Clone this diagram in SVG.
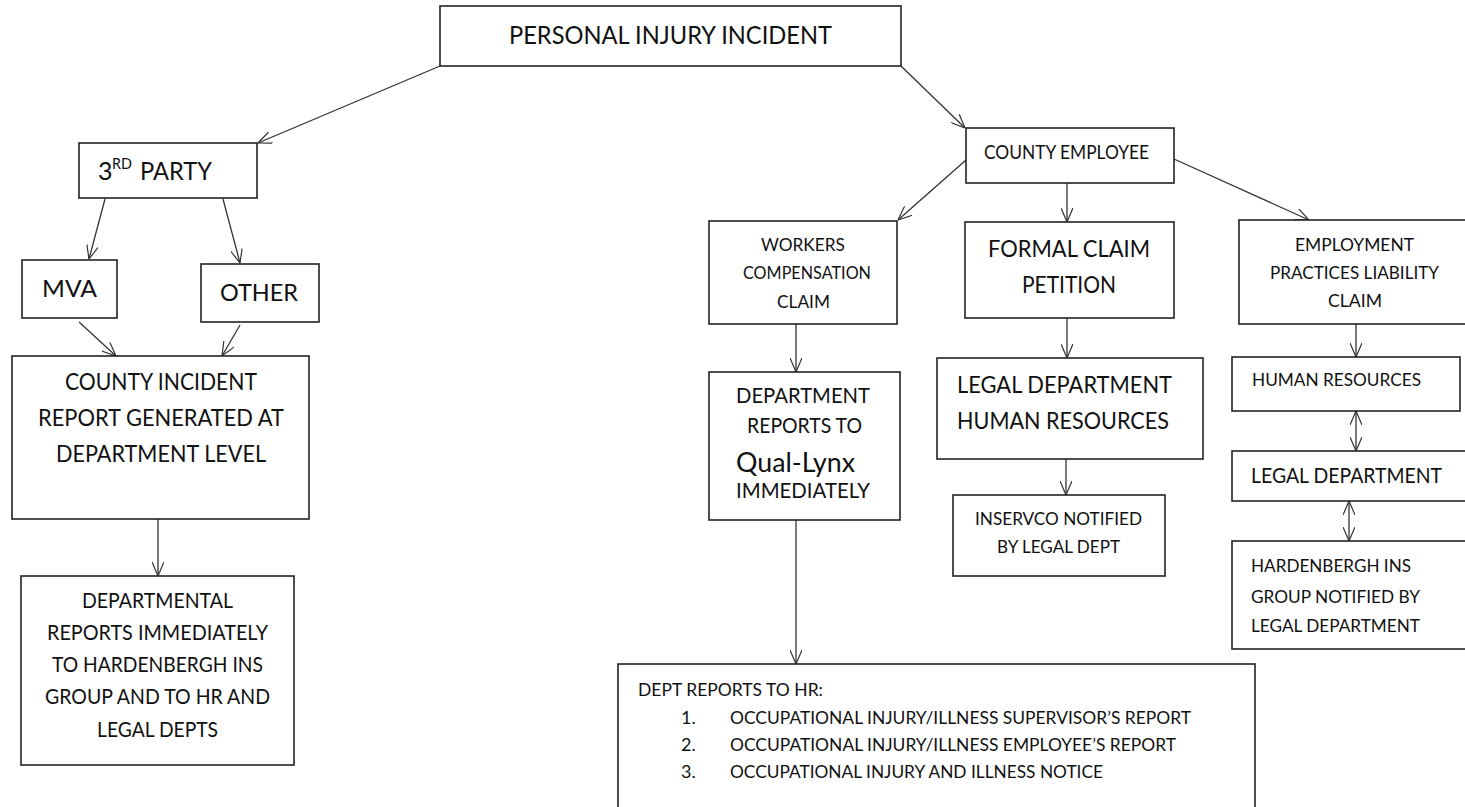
<svg xmlns="http://www.w3.org/2000/svg" width="1465" height="807" viewBox="0 0 1465 807">
<style>
.box{fill:#fff;stroke:#222;stroke-width:1.6}
text{font-family:Lato,"Open Sans",sans-serif;fill:#111}
.m{text-anchor:middle}
.c{stroke:#333;stroke-width:1.3;fill:none;marker-end:url(#ah)}
.d{stroke:#333;stroke-width:1.3;fill:none;marker-end:url(#ah);marker-start:url(#ah)}
</style>
<defs>
<marker id="ah" viewBox="0 0 14 12" refX="14" refY="6" markerWidth="14" markerHeight="12" markerUnits="userSpaceOnUse" orient="auto-start-reverse">
<path d="M0,0 L14,6 L0,12" fill="none" stroke="#333" stroke-width="1.2"/>
</marker>
</defs>
<rect width="1465" height="807" fill="#fff"/>
<g id="connectors">
<line class="c" x1="440" y1="66" x2="258" y2="143"/>
<line class="c" x1="901" y1="66" x2="965" y2="128"/>
<line class="c" x1="105" y1="199" x2="89" y2="259"/>
<line class="c" x1="223" y1="199" x2="240" y2="263"/>
<line class="c" x1="79" y1="322" x2="116" y2="356"/>
<line class="c" x1="240" y1="325" x2="222" y2="356"/>
<line class="c" x1="158" y1="519" x2="158" y2="576"/>
<line class="c" x1="966" y1="160" x2="898" y2="220"/>
<line class="c" x1="1067" y1="183" x2="1067" y2="222"/>
<line class="c" x1="1174" y1="159" x2="1309" y2="220"/>
<line class="c" x1="796" y1="324" x2="796" y2="372"/>
<line class="c" x1="1067" y1="318" x2="1067" y2="358"/>
<line class="c" x1="1066" y1="459" x2="1066" y2="495"/>
<line class="c" x1="1356" y1="324" x2="1356" y2="357"/>
<line class="d" x1="1356" y1="411" x2="1356" y2="451"/>
<line class="d" x1="1349" y1="501" x2="1349" y2="541"/>
<line class="c" x1="796" y1="520" x2="796" y2="664"/>
</g>
<g id="n-pii"><rect class="box" x="440" y="6" width="461" height="60"/><text x="509" y="44" font-size="25" textLength="323" lengthAdjust="spacingAndGlyphs">PERSONAL INJURY INCIDENT</text></g>
<g id="n-3rd"><rect class="box" x="79" y="143" width="178" height="55"/><text x="98" y="180" font-size="25">3</text><text x="112" y="169" font-size="15" textLength="20" lengthAdjust="spacingAndGlyphs">RD</text><text x="140" y="180" font-size="25" textLength="72" lengthAdjust="spacingAndGlyphs">PARTY</text></g>
<g id="n-mva"><rect class="box" x="22" y="260" width="95" height="58"/><text x="42" y="297" font-size="23.5" textLength="55" lengthAdjust="spacingAndGlyphs">MVA</text></g>
<g id="n-other"><rect class="box" x="201" y="264" width="118" height="58"/><text x="220" y="301" font-size="23.5" textLength="78" lengthAdjust="spacingAndGlyphs">OTHER</text></g>
<g id="n-cir"><rect class="box" x="12" y="356" width="297" height="163"/>
<text x="65" y="390" font-size="22.5" textLength="192" lengthAdjust="spacingAndGlyphs">COUNTY INCIDENT</text>
<text x="38" y="426" font-size="22.5" textLength="246" lengthAdjust="spacingAndGlyphs">REPORT GENERATED AT</text>
<text x="56" y="462" font-size="22.5" textLength="210" lengthAdjust="spacingAndGlyphs">DEPARTMENT LEVEL</text></g>
<g id="n-deptal"><rect class="box" x="21" y="576" width="273" height="189"/>
<text x="82" y="608" font-size="20.3" textLength="151" lengthAdjust="spacingAndGlyphs">DEPARTMENTAL</text>
<text x="47" y="640" font-size="20.3" textLength="221" lengthAdjust="spacingAndGlyphs">REPORTS IMMEDIATELY</text>
<text x="52" y="672" font-size="20.3" textLength="211" lengthAdjust="spacingAndGlyphs">TO HARDENBERGH INS</text>
<text x="45" y="704" font-size="20.3" textLength="225" lengthAdjust="spacingAndGlyphs">GROUP AND TO HR AND</text>
<text x="97" y="737" font-size="20.3" textLength="121" lengthAdjust="spacingAndGlyphs">LEGAL DEPTS</text></g>
<g id="n-ce"><rect class="box" x="966" y="128" width="208" height="55"/><text x="984" y="159" font-size="18.3" textLength="165" lengthAdjust="spacingAndGlyphs">COUNTY EMPLOYEE</text></g>
<g id="n-wc"><rect class="box" x="709" y="221" width="188" height="103"/>
<text x="761" y="251" font-size="16.8" textLength="84" lengthAdjust="spacingAndGlyphs">WORKERS</text>
<text x="743" y="279" font-size="16.8" textLength="128" lengthAdjust="spacingAndGlyphs">COMPENSATION</text>
<text x="777" y="308" font-size="16.8" textLength="53" lengthAdjust="spacingAndGlyphs">CLAIM</text></g>
<g id="n-fcp"><rect class="box" x="965" y="222" width="209" height="96"/>
<text x="988" y="257" font-size="22.8" textLength="162" lengthAdjust="spacingAndGlyphs">FORMAL CLAIM</text>
<text x="1022" y="293" font-size="22.8" textLength="94" lengthAdjust="spacingAndGlyphs">PETITION</text></g>
<g id="n-epl"><rect class="box" x="1239" y="220" width="232" height="104"/>
<text x="1295" y="251" font-size="18" textLength="119" lengthAdjust="spacingAndGlyphs">EMPLOYMENT</text>
<text x="1270" y="279" font-size="18" textLength="169" lengthAdjust="spacingAndGlyphs">PRACTICES LIABILITY</text>
<text x="1328" y="307" font-size="18" textLength="54" lengthAdjust="spacingAndGlyphs">CLAIM</text></g>
<g id="n-drq"><rect class="box" x="709" y="372" width="191" height="148"/>
<text x="736" y="403" font-size="21" textLength="134" lengthAdjust="spacingAndGlyphs">DEPARTMENT</text>
<text x="747" y="433" font-size="21" textLength="115" lengthAdjust="spacingAndGlyphs">REPORTS TO</text>
<text x="736" y="472" font-size="26" font-family="'Liberation Sans',Arial,sans-serif" textLength="119" lengthAdjust="spacingAndGlyphs">Qual-Lynx</text>
<text x="736" y="498" font-size="21" textLength="134" lengthAdjust="spacingAndGlyphs">IMMEDIATELY</text></g>
<g id="n-ldhr"><rect class="box" x="937" y="358" width="266" height="101"/>
<text x="957" y="393" font-size="22.8" textLength="215" lengthAdjust="spacingAndGlyphs">LEGAL DEPARTMENT</text>
<text x="957" y="429" font-size="22.8" textLength="212" lengthAdjust="spacingAndGlyphs">HUMAN RESOURCES</text></g>
<g id="n-inservco"><rect class="box" x="953" y="495" width="212" height="81"/>
<text x="975" y="525" font-size="18" textLength="167" lengthAdjust="spacingAndGlyphs">INSERVCO NOTIFIED</text>
<text x="997" y="553" font-size="18" textLength="123" lengthAdjust="spacingAndGlyphs">BY LEGAL DEPT</text></g>
<g id="n-hr"><rect class="box" x="1232" y="357" width="228" height="54"/><text x="1252" y="386" font-size="18" textLength="169" lengthAdjust="spacingAndGlyphs">HUMAN RESOURCES</text></g>
<g id="n-ld"><rect class="box" x="1232" y="451" width="240" height="50"/><text x="1251" y="483" font-size="20.3" textLength="191" lengthAdjust="spacingAndGlyphs">LEGAL DEPARTMENT</text></g>
<g id="n-hard"><rect class="box" x="1232" y="541" width="240" height="108"/>
<text x="1251" y="572" font-size="18" textLength="160" lengthAdjust="spacingAndGlyphs">HARDENBERGH INS</text>
<text x="1251" y="603" font-size="18" textLength="169" lengthAdjust="spacingAndGlyphs">GROUP NOTIFIED BY</text>
<text x="1251" y="632" font-size="18" textLength="169" lengthAdjust="spacingAndGlyphs">LEGAL DEPARTMENT</text></g>
<g id="n-hr-reports"><rect class="box" x="618" y="664" width="637" height="150"/>
<text x="638" y="696" font-size="18" textLength="185" lengthAdjust="spacingAndGlyphs">DEPT REPORTS TO HR:</text>
<text x="681" y="724" font-size="18">1.</text><text x="730" y="724" font-size="18" textLength="461" lengthAdjust="spacingAndGlyphs">OCCUPATIONAL INJURY/ILLNESS SUPERVISOR’S REPORT</text>
<text x="681" y="751" font-size="18">2.</text><text x="730" y="751" font-size="18" textLength="446" lengthAdjust="spacingAndGlyphs">OCCUPATIONAL INJURY/ILLNESS EMPLOYEE’S REPORT</text>
<text x="681" y="778" font-size="18">3.</text><text x="730" y="778" font-size="18" textLength="373" lengthAdjust="spacingAndGlyphs">OCCUPATIONAL INJURY AND ILLNESS NOTICE</text></g>
</svg>
